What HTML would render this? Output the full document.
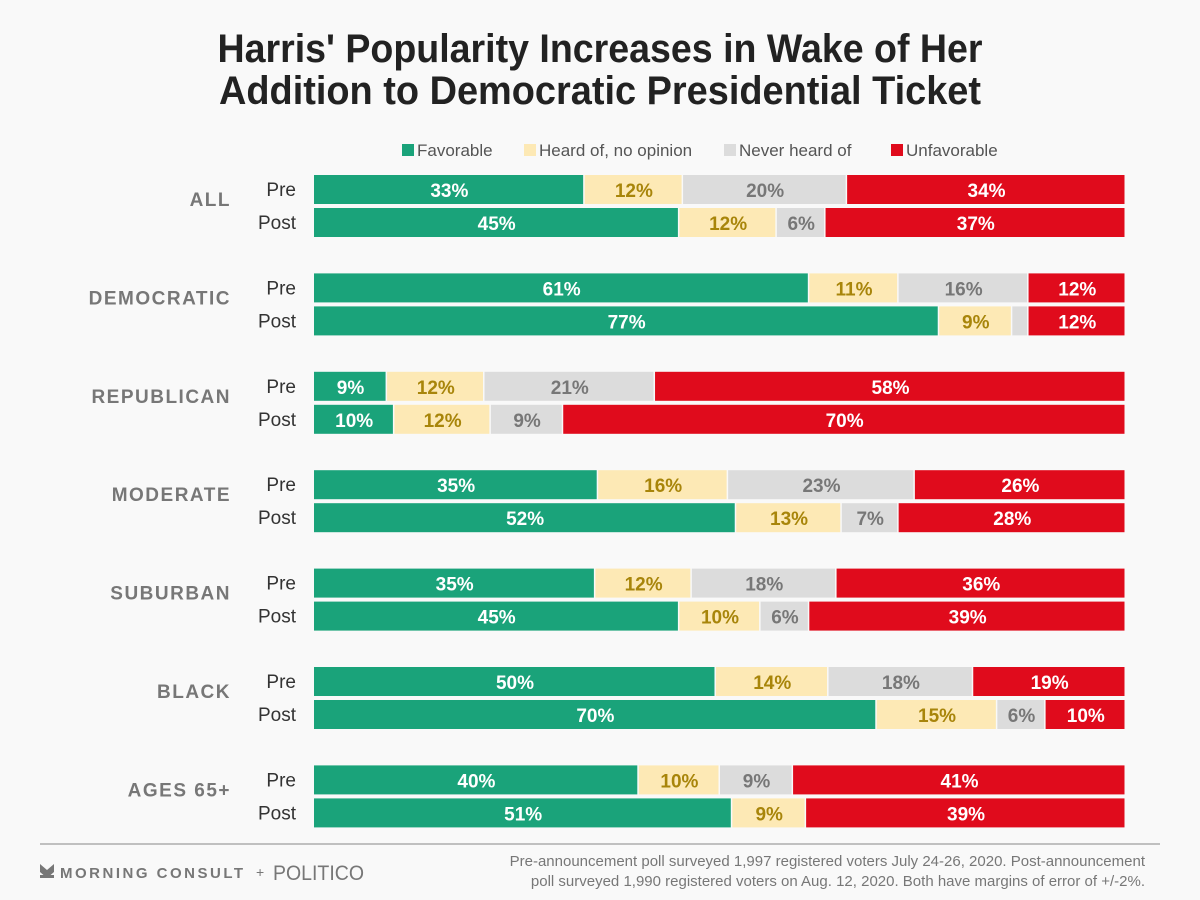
<!DOCTYPE html>
<html><head><meta charset="utf-8"><style>
html,body{margin:0;padding:0;background:#f9f9f9;}
svg{display:block;font-family:"Liberation Sans",sans-serif;}
</style></head><body>
<svg id="chart" width="1200" height="900" viewBox="0 0 1200 900">
<rect width="1200" height="900" fill="#f9f9f9"/>
<text x="600" y="62" text-anchor="middle" font-size="40" font-weight="bold" fill="#222" textLength="765" lengthAdjust="spacingAndGlyphs">Harris' Popularity Increases in Wake of Her</text>
<text x="600" y="104" text-anchor="middle" font-size="40" font-weight="bold" fill="#222" textLength="762" lengthAdjust="spacingAndGlyphs">Addition to Democratic Presidential Ticket</text>
<g id="legend"></g>
<g id="bars"></g>
<line x1="40" y1="844" x2="1160" y2="844" stroke="#888" stroke-width="1"/>
<g>
<path d="M40 864 L40 872 L47 878 L54 872 L54 864 L47 870 Z" fill="#777"/>
<rect x="40" y="875" width="14" height="3" fill="#777"/>
<text x="60" y="878" font-size="15" font-weight="bold" fill="#777" letter-spacing="2.5">MORNING CONSULT</text>
<text x="256" y="877" font-size="14" fill="#777">+</text>
<text x="273" y="880" font-size="21" fill="#777" textLength="91" lengthAdjust="spacingAndGlyphs">POLITICO</text>
</g>
<text x="1145" y="866" text-anchor="end" font-size="15" fill="#777">Pre-announcement poll surveyed 1,997 registered voters July 24-26, 2020. Post-announcement</text>
<text x="1145" y="886" text-anchor="end" font-size="15" fill="#777">poll surveyed 1,990 registered voters on Aug. 12, 2020. Both have margins of error of +/-2%.</text>
</svg>
<script>
const groups = ["ALL","DEMOCRATIC","REPUBLICAN","MODERATE","SUBURBAN","BLACK","AGES 65+"];
const seriesNames = ["Favorable","Heard of, no opinion","Never heard of","Unfavorable"];
const prePost = ["Pre","Post"];
const favorable = [[33,45],[61,77],[9,10],[35,52],[35,45],[50,70],[40,51]];
const heardOf = [[12,12],[11,9],[12,12],[16,13],[12,10],[14,15],[10,9]];
const neverHeard = [[20,6],[16,2],[21,9],[23,7],[18,6],[18,6],[9,0]];
const unfavorable = [[34,37],[12,12],[58,70],[26,28],[36,39],[19,10],[41,39]];

const NS="http://www.w3.org/2000/svg";
const fills=["#1aa37a","#fde9b5","#dcdcdc","#e00b1c"];
const txtCol=["#fff","#a8850a","#777","#fff"];
const X0=314, W=812;
function xScale(frac){return X0+frac*W;}
function yRow(g,r){return 175+g*98.4+r*33;}
function mk(tag,attrs,parent){const e=document.createElementNS(NS,tag);for(const k in attrs)e.setAttribute(k,attrs[k]);parent.appendChild(e);return e;}
const bars=document.getElementById('bars');
const series=[favorable,heardOf,neverHeard,unfavorable];
const slug=["favorable","heard-of","never-heard","unfavorable"];
groups.forEach((gname,g)=>{
  const gl=mk('text',{x:231,y:yRow(g,0)+31,'text-anchor':'end','font-size':19,'font-weight':'bold',fill:'#777','letter-spacing':'1.5'},bars);
  gl.textContent=gname;
  
  
  prePost.forEach((rn,r)=>{
    const y=yRow(g,r);
    const rl=mk('text',{x:296,y:y+21,'text-anchor':'end','font-size':19,fill:'#333'},bars);
    rl.textContent=rn;
    
    
    const vals=series.map(s=>s[g][r]);
    const tot=vals.reduce((a,b)=>a+b,0);
    let cum=0;
    vals.forEach((v,i)=>{
      if(v<=0)return;
      const x1=xScale(cum/tot), x2=xScale((cum+v)/tot);
      cum+=v;
      const rc=mk('rect',{x:x1,y:y,width:Math.max(0,x2-x1-1.5),height:29,fill:fills[i]},bars);
      
      
      if(v>=5){
        const t=mk('text',{x:(x1+x2)/2,y:y+22,'text-anchor':'middle','font-size':19,'font-weight':'bold',fill:txtCol[i]},bars);
        t.textContent=v+'%';
        
        
      }
    });
  });
});
const legend=document.getElementById('legend');
const legX=[402,524,724,891];
seriesNames.forEach((n,i)=>{
  const r=mk('rect',{x:legX[i],y:144,width:12,height:12,fill:fills[i]},legend);
  
  
  const t=mk('text',{x:legX[i]+15,y:156,'font-size':17,fill:'#555'},legend);
  t.textContent=n;
  
  
});
</script>
</body></html>
